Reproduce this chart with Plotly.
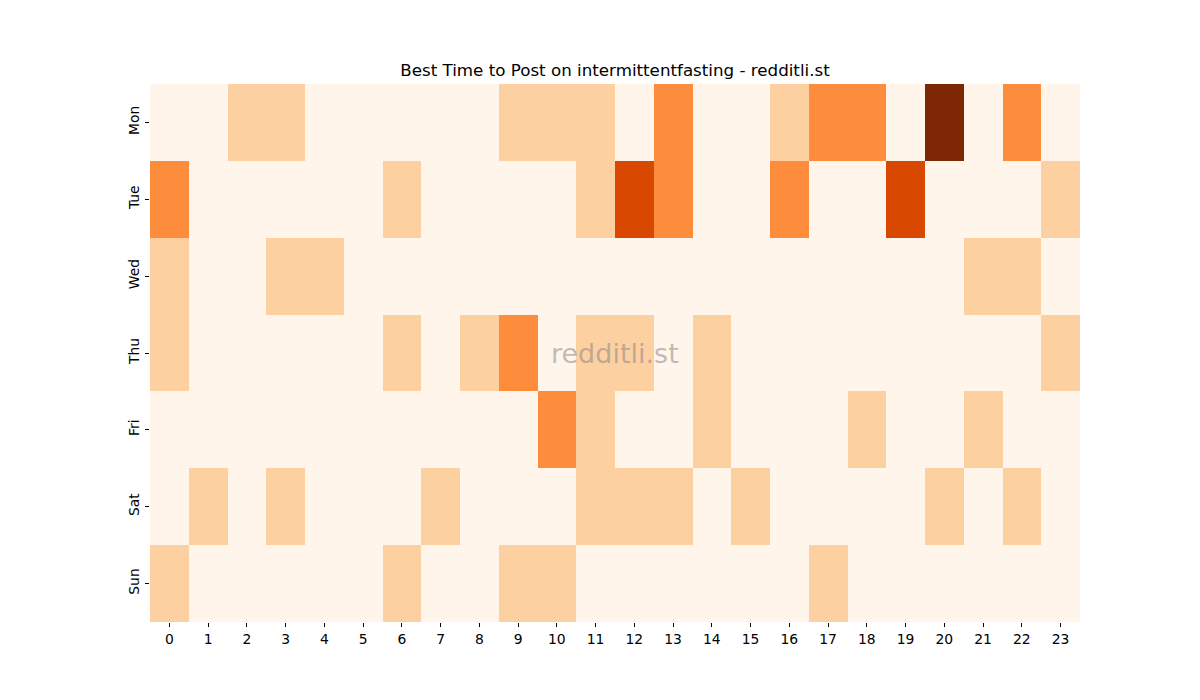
import plotly.graph_objects as go

days = ["Mon", "Tue", "Wed", "Thu", "Fri", "Sat", "Sun"]
hours = list(range(24))

mon = [0, 0, 1, 1, 0, 0, 0, 0, 0, 1, 1, 1, 0, 2, 0, 0, 1, 2, 2, 0, 4, 0, 2, 0]
tue = [2, 0, 0, 0, 0, 0, 1, 0, 0, 0, 0, 1, 3, 2, 0, 0, 2, 0, 0, 3, 0, 0, 0, 1]
wed = [1, 0, 0, 1, 1, 0, 0, 0, 0, 0, 0, 0, 0, 0, 0, 0, 0, 0, 0, 0, 0, 1, 1, 0]
thu = [1, 0, 0, 0, 0, 0, 1, 0, 1, 2, 0, 1, 1, 0, 1, 0, 0, 0, 0, 0, 0, 0, 0, 1]
fri = [0, 0, 0, 0, 0, 0, 0, 0, 0, 0, 2, 1, 0, 0, 1, 0, 0, 0, 1, 0, 0, 1, 0, 0]
sat = [0, 1, 0, 1, 0, 0, 0, 1, 0, 0, 0, 1, 1, 1, 0, 1, 0, 0, 0, 0, 1, 0, 1, 0]
sun = [1, 0, 0, 0, 0, 0, 1, 0, 0, 1, 1, 0, 0, 0, 0, 0, 0, 1, 0, 0, 0, 0, 0, 0]

z = [mon, tue, wed, thu, fri, sat, sun]

oranges = [
    [0.0, "#fff5eb"], [0.125, "#fee6ce"], [0.25, "#fdd0a2"], [0.375, "#fdae6b"],
    [0.5, "#fd8d3c"], [0.625, "#f16913"], [0.75, "#d94801"], [0.875, "#a63603"],
    [1.0, "#7f2704"],
]

fig = go.Figure(go.Heatmap(
    z=z, x=hours, y=days, colorscale=oranges, zmin=0, zmax=4,
    showscale=False, xgap=0, ygap=0,
))

W, H = 1200, 700
L, R, T, B = 150, 120, 84, 78

fig.update_layout(
    width=W, height=H,
    margin=dict(l=L, r=R, t=T, b=B),
    paper_bgcolor="white", plot_bgcolor="white",
    font=dict(family="DejaVu Sans", size=14, color="black"),
    title=dict(text="Best Time to Post on intermittentfasting - redditli.st",
               x=(L + (W - R)) / 2 / W, xanchor="center",
               y=1 - 70 / H, yanchor="middle", yref="container",
               font=dict(size=16.7, family="DejaVu Sans", color="black")),
    xaxis=dict(tickmode="array", tickvals=hours, ticktext=[str(h) for h in hours],
               ticks="outside", ticklen=4, tickwidth=1, tickcolor="black",
               showgrid=False, zeroline=False, showline=False,
               range=[-0.5, 23.5], tickfont=dict(size=13.9)),
    yaxis=dict(autorange="reversed", ticks="outside", ticklen=4, tickwidth=1,
               tickcolor="black", tickangle=-90, showgrid=False, zeroline=False,
               showline=False, tickfont=dict(size=13.9)),
    annotations=[dict(text="redditli.st", xref="paper", yref="paper", x=0.5, y=0.5,
                      xanchor="center", yanchor="middle", showarrow=False,
                      font=dict(size=27, family="DejaVu Sans", color="rgba(128,128,128,0.5)"))],
)

fig.write_html("out.html")
